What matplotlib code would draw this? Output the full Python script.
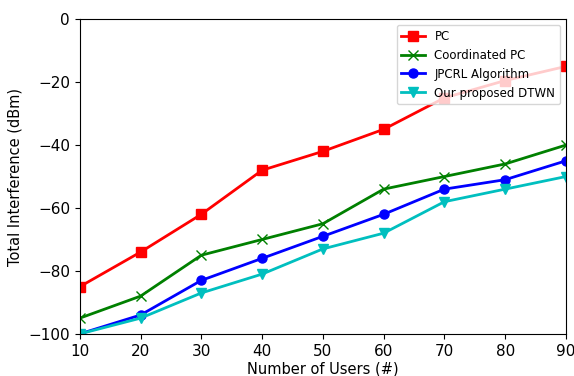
import numpy as np
import matplotlib.pyplot as plt

users = [10, 20, 30, 40, 50, 60, 70, 80, 90]
pc = [-85, -74, -62, -48, -42, -35, -25, -19.5, -15]
coord_pc = [-95, -88, -75, -70, -65, -54, -50, -46, -40]
jpcrl = [-100, -94, -83, -76, -69, -62, -54, -51, -45]
dtwn = [-100, -95, -87, -81, -73, -68, -58, -54, -50]

fig = plt.figure(figsize=(5.74, 3.76), dpi=100)
ax = fig.add_axes([0.139, 0.112, 0.847, 0.837])

ax.plot(users, pc, color="red", marker="s", lw=2, ms=6.5, label="PC")
ax.plot(users, coord_pc, color="green", marker="x", lw=2, ms=6.5, label="Coordinated PC")
ax.plot(users, jpcrl, color="blue", marker="o", lw=2, ms=6.5, label="JPCRL Algorithm")
ax.plot(users, dtwn, color="c", marker="v", lw=2, ms=6.5, label="Our proposed DTWN")

ax.set_xlim(10, 90)
ax.set_ylim(-100, 0)
ax.set_xticks(users)
ax.set_yticks([-100, -80, -60, -40, -20, 0])
ax.tick_params(labelsize=11)
ax.set_xlabel("Number of Users (#)", fontsize=10.5, labelpad=2)
ax.set_ylabel("Total Interference (dBm)", fontsize=10.5)
ax.legend(loc="upper right", fontsize=8.5)

fig.savefig("out.png")
